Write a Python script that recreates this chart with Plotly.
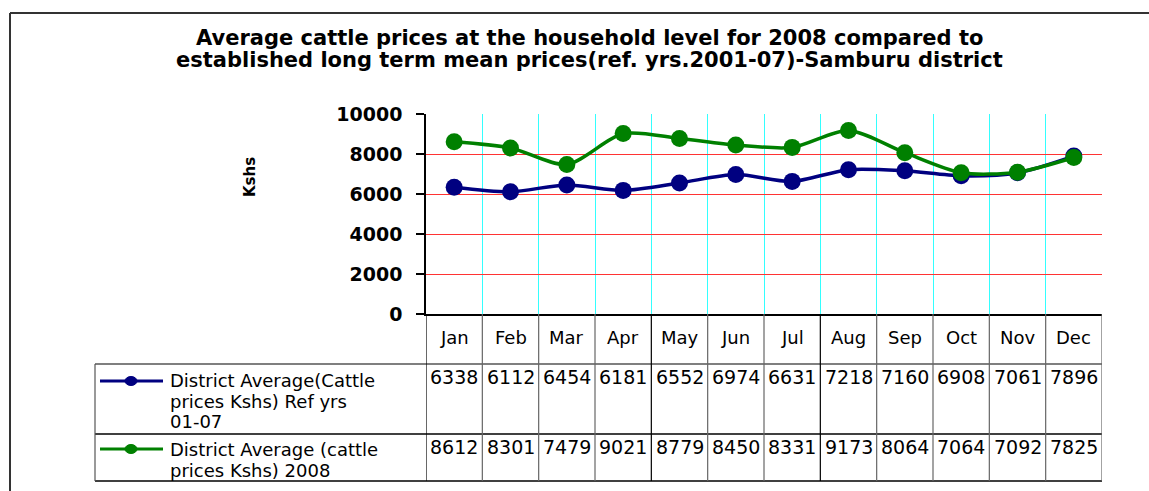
import plotly.graph_objects as go

months = ["Jan", "Feb", "Mar", "Apr", "May", "Jun", "Jul", "Aug", "Sep", "Oct", "Nov", "Dec"]
ref_prices = [6338, 6112, 6454, 6181, 6552, 6974, 6631, 7218, 7160, 6908, 7061, 7896]
prices_2008 = [8612, 8301, 7479, 9021, 8779, 8450, 8331, 9173, 8064, 7064, 7092, 7825]
series_lines = [["District Average(Cattle", "prices Kshs) Ref yrs", "01-07"],
                ["District Average (cattle", "prices Kshs) 2008"]]
series_colors = ["#000080", "#008000"]
y_ticks = [0, 2000, 4000, 6000, 8000, 10000]
title_lines = ["Average cattle prices at the household level for 2008 compared to",
               "established long term mean prices(ref. yrs.2001-07)-Samburu district"]
y_title = "Kshs"

W, H = 1149, 491
FONT = "DejaVu Sans"


def px(x):
    return x / W


def py(y):
    return 1 - y / H


n = len(months)
fig = go.Figure()
for vals, lines, col in zip([ref_prices, prices_2008], series_lines, series_colors):
    fig.add_trace(go.Scatter(
        x=list(range(n)), y=vals, mode="lines+markers", name=" ".join(lines),
        line=dict(color=col, width=3.5, shape="spline", smoothing=0.8),
        marker=dict(color=col, size=17, symbol="circle"),
        showlegend=False))

shapes = []
annotations = []

# outer border
shapes.append(dict(type="line", xref="paper", yref="paper", x0=px(10), x1=1, y0=py(13), y1=py(13),
                   line=dict(color="#333333", width=2)))
shapes.append(dict(type="line", xref="paper", yref="paper", x0=px(10), x1=px(10), y0=py(13), y1=0,
                   line=dict(color="#333333", width=2)))

# table lines
row_top, row1, row2, row_bot = 314, 364, 434, 481
for yv in (row1, row2, row_bot):
    shapes.append(dict(type="line", xref="paper", yref="paper", x0=px(95), x1=px(1102), y0=py(yv), y1=py(yv),
                       line=dict(color="#555555" if yv == row1 else "#000000", width=1.5)))
shapes.append(dict(type="line", xref="paper", yref="paper", x0=px(95), x1=px(95), y0=py(row1), y1=py(row_bot),
                   line=dict(color="#555555", width=1.2)))
for i in range(n + 1):
    shapes.append(dict(type="line", xref="x", yref="paper", x0=i - 0.5, x1=i - 0.5,
                       y0=py(row_top), y1=py(row_bot),
                       line=dict(color="#000000" if i in (0, 4, 7) else "#666666", width=1.2)))

# month labels
for i, m in enumerate(months):
    annotations.append(dict(x=i, y=py(337), xref="x", yref="paper", text=m, showarrow=False,
                            font=dict(size=18, color="black", family=FONT),
                            xanchor="center", yanchor="middle"))
# values
for vals, yv in [(ref_prices, 377), (prices_2008, 447)]:
    for i, v in enumerate(vals):
        annotations.append(dict(x=i, y=py(yv), xref="x", yref="paper", text=str(v), showarrow=False,
                                font=dict(size=19, color="black", family=FONT),
                                xanchor="center", yanchor="middle"))

# legend entries
for lines, col, ysym, ylines in [(series_lines[0], series_colors[0], 381, [380, 401, 421]),
                                 (series_lines[1], series_colors[1], 449, [449, 470])]:
    shapes.append(dict(type="line", xref="paper", yref="paper", x0=px(100), x1=px(163), y0=py(ysym), y1=py(ysym),
                       line=dict(color=col, width=3)))
    shapes.append(dict(type="circle", xref="paper", yref="paper", x0=px(125), x1=px(137),
                       y0=py(ysym + 4.5), y1=py(ysym - 4.5), fillcolor=col, line=dict(color=col, width=1)))
    for txt, yl in zip(lines, ylines):
        annotations.append(dict(x=px(168), y=py(yl), xref="paper", yref="paper", text=txt, showarrow=False,
                                font=dict(size=18, color="black", family=FONT),
                                xanchor="left", yanchor="middle", align="left"))

# title
for txt, yl in zip(title_lines, [38, 60]):
    annotations.append(dict(x=px(589), y=py(yl), xref="paper", yref="paper", text="<b>" + txt + "</b>",
                            showarrow=False,
                            font=dict(size=21, color="black", family=FONT),
                            xanchor="center", yanchor="middle"))
# y-axis title
annotations.append(dict(x=px(250), y=py(177), xref="paper", yref="paper", text="<b>" + y_title + "</b>",
                        showarrow=False, textangle=-90,
                        font=dict(size=15, color="black", family=FONT),
                        xanchor="center", yanchor="middle"))

fig.update_layout(
    width=W, height=H,
    margin=dict(l=0, r=0, t=0, b=0, autoexpand=False),
    paper_bgcolor="white", plot_bgcolor="white",
    shapes=shapes, annotations=annotations,
    xaxis=dict(domain=[px(426), px(1102)], range=[-0.5, n - 0.5], automargin=False,
               tickvals=[i - 0.5 for i in range(n + 1)], showticklabels=False,
               showgrid=True, gridcolor="#33ffff", gridwidth=1.2,
               showline=True, linecolor="black", linewidth=2, ticks="", zeroline=False),
    yaxis=dict(domain=[py(314), py(114)], range=[0, 10000], tickvals=y_ticks, automargin=False,
               tickformat="d",
               ticks="outside", ticklen=8, tickcolor="black", tickwidth=1.5,
               showline=True, linecolor="black", linewidth=1.5,
               showgrid=True, gridcolor="#ff3333", gridwidth=1.2, zeroline=False,
               ticklabelstandoff=10,
               tickfont=dict(size=19, color="black", family=FONT, weight="bold")),
)

fig.write_html("out.html", config={"displayModeBar": False},
               post_script="document.body.style.margin='0';")
